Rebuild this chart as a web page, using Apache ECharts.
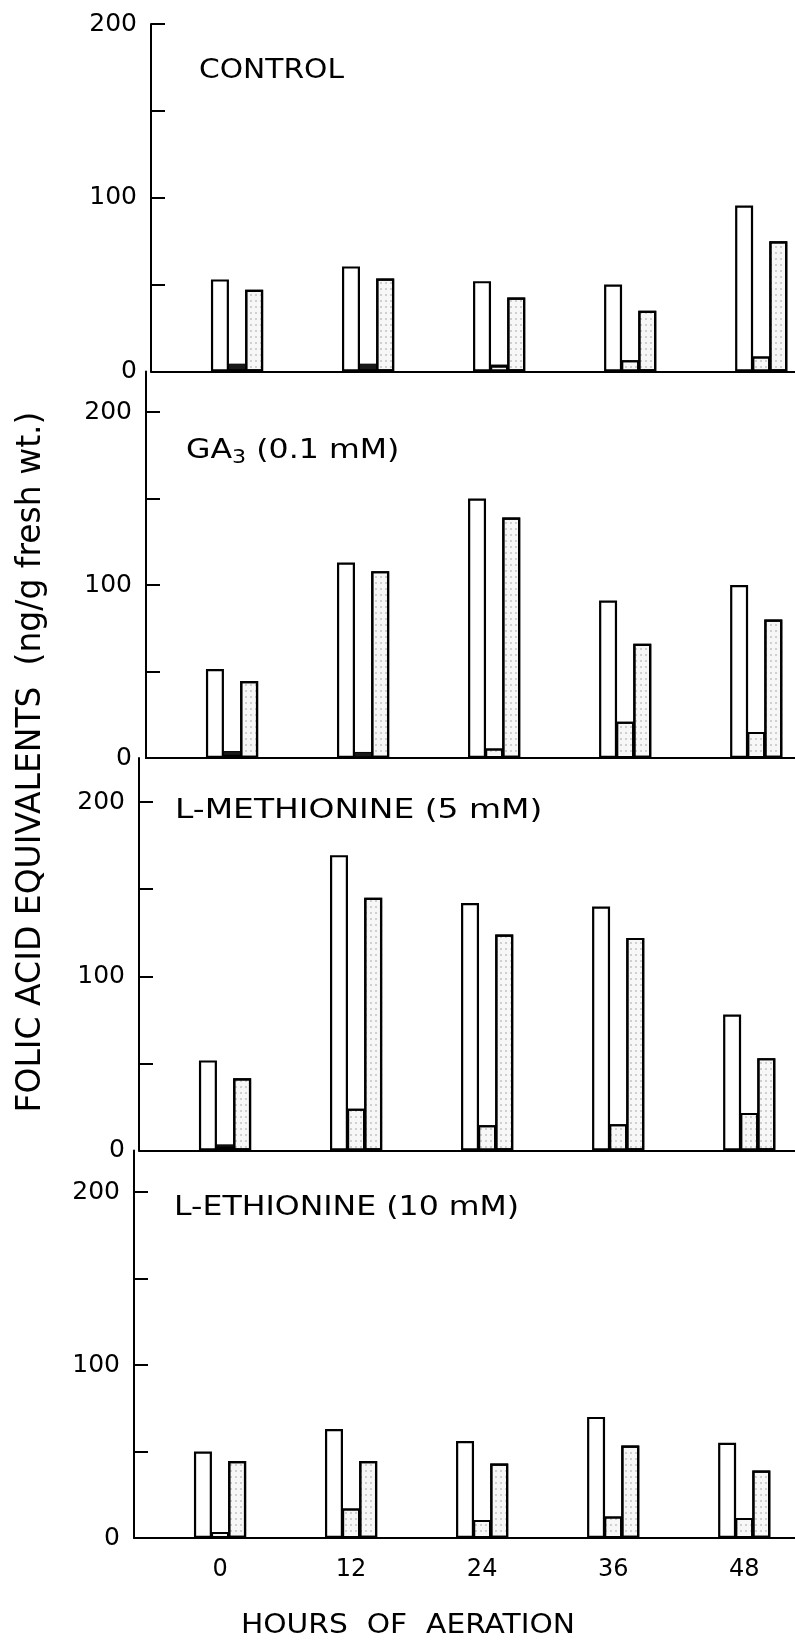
<!DOCTYPE html>
<html><head><meta charset="utf-8">
<script src="https://cdn.jsdelivr.net/npm/echarts@6/dist/echarts.min.js"></script>
<style>html,body{margin:0;padding:0;background:#fff}#c{width:795px;height:1641px}</style>
</head><body><div id="c"></div>
<script>
// ---- data ----
const hours = [0, 12, 24, 36, 48];
const yTickValues = [0, 50, 100, 150, 200];
const yLabelValues = [0, 100, 200];
const xTitle = 'HOURS  OF  AERATION';
const yTitle = 'FOLIC ACID EQUIVALENTS  (ng/g fresh wt.)';

const controlOpen    = [53, 60.5, 52, 50, 95.5];
const controlMid     = [5.8, 5.8, 7.5, 11.5, 16.7];
const controlMidDark = [4.5, 4.5, 4, 5, 8];
const controlDotted  = [47, 53.5, 42.6, 35, 75];

const ga3Open    = [51.4, 113, 150, 91, 100];
const ga3Mid     = [5.8, 4, 7.5, 24, 18];
const ga3MidDark = [4, 3.5, 2, 3, 3];
const ga3Dotted  = [44.5, 108, 139, 66, 80];

const metOpen    = [51.7, 169.5, 142, 140, 78];
const metMid     = [5.7, 26, 16, 17, 23.5];
const metMidDark = [3.5, 2, 1.5, 2, 2];
const metDotted  = [41.4, 145, 124, 122, 53];

const ethOpen    = [50, 63, 56, 70, 55];
const ethMid     = [6, 18, 11.4, 14, 12.5];
const ethMidDark = [2.5, 1, 1, 1.5, 1];
const ethDotted  = [44.5, 44.5, 43, 53.4, 39];

const panels = [
  {label: '{a|CONTROL}', open: controlOpen, mid: controlMid, dark: controlMidDark, dotted: controlDotted},
  {label: '{a|GA}{s|3}{a| (0.1 mM)}', open: ga3Open, mid: ga3Mid, dark: ga3MidDark, dotted: ga3Dotted},
  {label: '{a|L-METHIONINE (5 mM)}', open: metOpen, mid: metMid, dark: metMidDark, dotted: metDotted},
  {label: '{a|L-ETHIONINE (10 mM)}', open: ethOpen, mid: ethMid, dark: ethMidDark, dotted: ethDotted}
];

// ---- layout (pixels) ----
const W = 795;
const layout = [
  {axisX: 151, top: 24,    y200: 24,   zero: 371.5, lx: 199, ly: 71,   sx: 1.1},
  {axisX: 146, top: 371.5, y200: 412,  zero: 758,   lx: 186, ly: 451,  sx: 1.17},
  {axisX: 139, top: 758,   y200: 802,  zero: 1150.5, lx: 175, ly: 811, sx: 1.22},
  {axisX: 134, top: 1150.5, y200: 1192, zero: 1538, lx: 174, ly: 1208, sx: 1.17}
];
const xMin = -7.88, pxPerHour = 10.92;
const FONT = 'DejaVu Sans';

const grids = [], xAxes = [], yAxes = [], series = [], graphics = [];
const stipple = {symbol: 'circle', symbolSize: 0.7, dashArrayX: [2, 3], dashArrayY: [2, 4], color: 'rgba(0,0,0,0.45)'};

layout.forEach((L, i) => {
  const yMax = 200 * (L.zero - L.top) / (L.zero - L.y200);
  const xMax = xMin + (W - L.axisX) / pxPerHour;
  grids.push({left: L.axisX, top: L.top, width: W - L.axisX, height: L.zero - L.top});
  xAxes.push({
    type: 'value', gridIndex: i, min: xMin, max: xMax,
    axisLine: {show: true, onZero: false, lineStyle: {color: '#000', width: 2}},
    axisTick: {show: false}, splitLine: {show: false},
    axisLabel: i === 3 ? {show: true, customValues: hours, color: '#000', fontFamily: FONT, fontSize: 24, margin: 20}
                       : {show: false}
  });
  yAxes.push({
    type: 'value', gridIndex: i, min: 0, max: yMax,
    axisLine: {show: true, onZero: false, lineStyle: {color: '#000', width: 2}},
    axisTick: {show: true, inside: true, length: 14, customValues: yTickValues, lineStyle: {color: '#000', width: 2}},
    axisLabel: {show: true, customValues: yLabelValues, color: '#000', fontFamily: FONT, fontSize: 25, margin: 14},
    splitLine: {show: false}
  });
  const P = panels[i];
  const common = {type: 'bar', xAxisIndex: i, yAxisIndex: i, barWidth: 18, barGap: '-5%', animation: false};
  series.push(Object.assign({}, common, {
    name: 'open' + i,
    data: hours.map((h, j) => [h, P.open[j]]),
    itemStyle: {color: '#fff', borderColor: '#000', borderWidth: 2.2}
  }));
  series.push(Object.assign({}, common, {
    name: 'midDark' + i, stack: 'mid' + i,
    data: hours.map((h, j) => [h, P.dark[j]]),
    itemStyle: {color: '#1a1a1a', borderColor: '#000', borderWidth: 1}
  }));
  series.push(Object.assign({}, common, {
    name: 'midLight' + i, stack: 'mid' + i,
    data: hours.map((h, j) => [h, Math.max(P.mid[j] - P.dark[j], 0)]),
    itemStyle: {color: '#f7f7f7', borderColor: '#000', borderWidth: 2, decal: stipple}
  }));
  series.push(Object.assign({}, common, {
    name: 'dotted' + i,
    data: hours.map((h, j) => [h, P.dotted[j]]),
    itemStyle: {color: '#f7f7f7', borderColor: '#000', borderWidth: 2.2, decal: stipple}
  }));
  graphics.push({
    type: 'text', x: L.lx, y: L.ly, scaleX: L.sx,
    style: {
      text: P.label, x: 0, y: 0, verticalAlign: 'middle', align: 'left',
      rich: {
        a: {fontFamily: FONT, fontSize: 27, fill: '#000', color: '#000'},
        s: {fontFamily: FONT, fontSize: 19, fill: '#000', color: '#000', verticalAlign: 'bottom', padding: [14, 0, 0, 0]}
      }
    }
  });
});

graphics.push({
  type: 'text', x: 31, y: 762, rotation: Math.PI / 2,
  style: {text: yTitle, x: 0, y: 0, align: 'center', verticalAlign: 'middle',
          fontFamily: FONT, fontSize: 33, fill: '#000'}
});
graphics.push({
  type: 'text', x: 408, y: 1626, scaleX: 1.1,
  style: {text: xTitle, x: 0, y: 0, align: 'center', verticalAlign: 'middle',
          fontFamily: FONT, fontSize: 27, fill: '#000'}
});

const chart = echarts.init(document.getElementById('c'), null, {renderer: 'canvas'});
chart.setOption({
  backgroundColor: '#fff',
  animation: false,
  grid: grids, xAxis: xAxes, yAxis: yAxes, series: series,
  graphic: graphics
});
</script></body></html>
